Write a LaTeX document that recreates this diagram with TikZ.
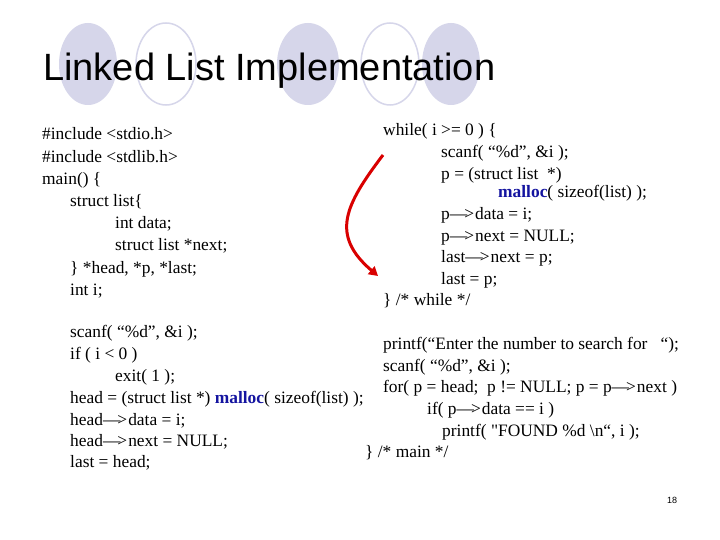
\documentclass[tikz,border=0pt]{standalone}
\usepackage{fontspec}
\setmainfont{Liberation Serif}
\newfontfamily\rawserif{Liberation Serif}
\newfontfamily\titlefont{Liberation Sans}
\usetikzlibrary{arrows.meta}
\definecolor{lav}{RGB}{214,214,234}
\definecolor{mblue}{RGB}{20,20,160}
\newcommand{\ar}{\textemdash\kern-3pt>\kern1pt}
\tikzset{code/.style={anchor=base west,inner sep=0pt,font=\fontsize{17.4}{17.4}\selectfont},
 circf/.style={fill=lav,draw=none},
 circo/.style={draw=lav,line width=1.5pt}}
\begin{document}
\begin{tikzpicture}[x=1pt,y=-1pt]
\useasboundingbox[fill=white] (0,0) rectangle (720,540);
\fill[circf] (88,64) ellipse (29 and 41);
\draw[circo] (166,64) ellipse (30 and 41);
\fill[circf] (308,64) ellipse (31 and 41);
\draw[circo] (390,64) ellipse (29 and 41);
\fill[circf] (451,64) ellipse (29 and 41);
\node[anchor=base west,inner sep=0pt,font=\titlefont\fontsize{38}{38}\selectfont] (title) at (43,81) {Linked List Implementation};
% left top
\node[code] (l1) at (42,140) {\#include <stdio.h>};
\node[code] (l2) at (42,163) {\#include <stdlib.h>};
\node[code] (l3) at (42,185) {main() \{};
\node[code] (l4) at (70,207) {struct list\{};
\node[code] (l5) at (115,229) {int data;};
\node[code] (l6) at (115,251) {struct list *next;};
\node[code] (l7) at (70,273) {\} *head, *p, *last;};
\node[code] (l8) at (70,295) {int i;};
% right top
\node[code] (w1) at (383,136) {while( i >= 0 ) \{};
\node[code] (w2) at (441,158) {scanf( “\%d”, \&i );};
\node[code] (w3) at (441,180) {p = (struct list~ *)};
\node[code] (w4) at (498,197) {\textbf{\color{mblue}malloc}( sizeof(list) );};
\node[code] (w5) at (441,219) {p\ar data = i;};
\node[code] (w6) at (441,241) {p\ar next = NULL;};
\node[code] (w7) at (441,262) {last\ar next = p;};
\node[code] (w8) at (441,284) {last = p;};
\node[code] (w9) at (383,305) {\} /* while */};
% bottom left
\node[code] (b1) at (70,337) {scanf( “\%d”, \&i );};
\node[code] (b2) at (70,359) {if ( i < 0 )};
\node[code] (b3) at (115,381) {exit( 1 );};
\node[code] (b4) at (70,403) {head = (struct list *) \textbf{\color{mblue}malloc}( sizeof(list) );};
\node[code] (b5) at (70,425) {head\ar data = i;};
\node[code] (b6) at (70,446) {head\ar next = NULL;};
\node[code] (b7) at (70,467) {last = head;};
% bottom right
\node[code] (r1) at (383,349) {printf(“Enter the number to search for~~ “);};
\node[code] (r2) at (383,371) {scanf( “\%d”, \&i );};
\node[code] (r3) at (383,392) {for( p = head;~ p != NULL; p = p\ar next )};
\node[code] (r4) at (427,414) {if( p\ar data == i )};
\node[code] (r5) at (442,436) {printf( {\rawserif"}FOUND \%d \textbackslash n“, i );};
\node[code] (r6) at (365,457) {\} /* main */};
\node[anchor=base,inner sep=0pt,font=\titlefont\fontsize{9}{9}\selectfont] (pg) at (672,503) {18};
\coordinate (as) at (383,155);
\coordinate (ae) at (378,276);
\draw[red!85!black,line width=3pt,-{Triangle[length=9pt,width=10pt]}] (as) .. controls (345,205) and (330,235) .. (ae);
\end{tikzpicture}
\end{document}
